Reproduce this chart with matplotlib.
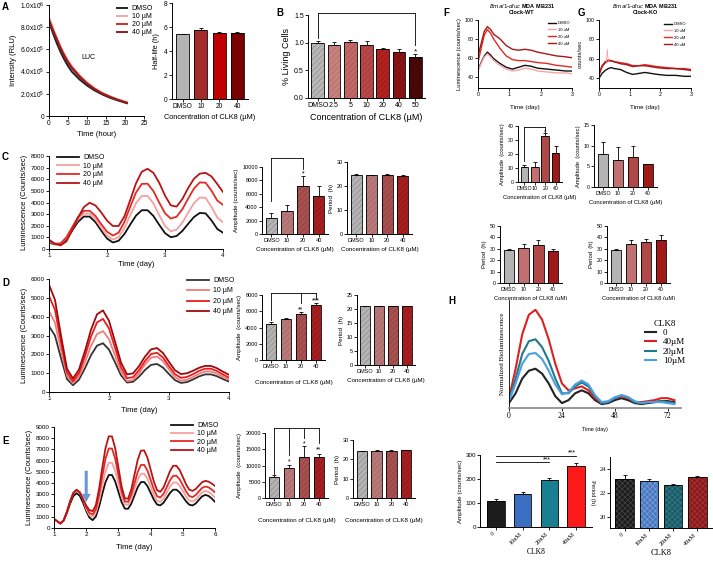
import numpy as np
import matplotlib
matplotlib.use('Agg')
import matplotlib.pyplot as plt

plt.rcParams['font.family'] = ['Liberation Sans', 'DejaVu Sans']
plt.rcParams['hatch.linewidth'] = 0.35
plt.rcParams['axes.linewidth'] = 0.7

# ---------------- data ----------------
conc = ['DMSO', '10', '20', '40']
leg_labels = ['DMSO', '10 µM', '20 µM', '40 µM']

# A: luciferase decay
A_t = [0, 1, 2, 3, 4, 5, 6, 8, 10, 12, 14, 16, 18, 20.5]
A_dmso = [8.5, 7.5, 6.6, 5.8, 5.1, 4.5, 4.0, 3.3, 2.75, 2.3, 1.95, 1.65, 1.42, 1.15]
A_10 = [8.9, 8.0, 7.1, 6.3, 5.6, 5.0, 4.5, 3.7, 3.05, 2.5, 2.1, 1.78, 1.52, 1.25]
A_20 = [8.7, 7.8, 7.0, 6.2, 5.5, 4.9, 4.4, 3.6, 2.95, 2.45, 2.05, 1.75, 1.48, 1.2]
A_40 = [8.6, 7.7, 6.9, 6.1, 5.4, 4.8, 4.3, 3.55, 2.9, 2.4, 2.0, 1.7, 1.45, 1.18]
A_half = [5.4, 5.75, 5.5, 5.52]
A_half_err = [0.03, 0.2, 0.06, 0.06]

# B: viability
B_conc = ['DMSO', '2.5', '5', '10', '20', '40', '50']
B_val = [1.0, 0.96, 1.02, 0.95, 0.88, 0.83, 0.75]
B_err = [0.03, 0.05, 0.02, 0.08, 0.03, 0.05, 0.04]

# C
C_t = [1.0, 1.1, 1.2, 1.3, 1.4, 1.5, 1.6, 1.7, 1.8, 1.9, 2.0, 2.1, 2.2, 2.3, 2.4, 2.5,
       2.6, 2.7, 2.8, 2.9, 3.0, 3.1, 3.2, 3.3, 3.4, 3.5, 3.6, 3.7, 3.8, 3.9, 4.0]
C_dmso = [550, 400, 411, 865, 1600, 2335, 2790, 2787, 2319, 1585, 901, 561, 708, 1286, 2100, 2872,
          3337, 3334, 2846, 2080, 1367, 1012, 1119, 1555, 2170, 2752, 3103, 3063, 2471, 1729, 1400]
C_10 = [650, 430, 466, 956, 1750, 2544, 3035, 3037, 2569, 1835, 1152, 812, 1013, 1793, 2894, 3938,
        4565, 4563, 3922, 2918, 1982, 1516, 1666, 2274, 3132, 3945, 4434, 4391, 3646, 2714, 2300]
C_20 = [750, 460, 472, 1008, 1875, 2742, 3279, 3290, 2842, 2140, 1487, 1161, 1402, 2324, 3625, 4858,
        5600, 5615, 4984, 3995, 3074, 2616, 2777, 3426, 4341, 5208, 5730, 5701, 5024, 4176, 3800]
C_40 = [800, 450, 310, 650, 1600, 2700, 3600, 3980, 3750, 3150, 2450, 1980, 1980, 2800, 4200, 5650,
        6650, 6900, 6550, 5700, 4600, 3750, 3650, 4300, 5250, 6050, 6480, 6550, 6250, 5600, 4900]
C_amp = [2400, 3400, 7200, 5700]
C_amp_err = [800, 1000, 1500, 1400]
C_per = [24.5, 24.4, 24.5, 24.3]
C_per_err = [0.3, 0.3, 0.3, 0.4]

# D
D_t = C_t
D_dmso = [3500, 2990, 1796, 684, 359, 656, 1264, 1954, 2461, 2589, 2250, 1576, 887, 503, 542, 811,
          1169, 1438, 1489, 1295, 953, 629, 481, 527, 665, 827, 935, 936, 838, 686, 553]
D_10 = [4300, 3676, 2217, 858, 462, 831, 1587, 2446, 3076, 3236, 2804, 1946, 1068, 580, 632, 989,
        1461, 1818, 1886, 1639, 1203, 790, 601, 650, 797, 970, 1084, 1085, 975, 806, 658]
D_20 = [5100, 4363, 2638, 1032, 565, 1006, 1910, 2939, 3692, 3884, 3372, 2354, 1314, 735, 785, 1155,
        1645, 2015, 2085, 1829, 1376, 947, 751, 800, 947, 1120, 1234, 1233, 1112, 927, 764]
D_40 = [5700, 4890, 2995, 1230, 715, 1196, 2182, 3302, 4124, 4333, 3781, 2684, 1562, 938, 988, 1371,
        1879, 2262, 2335, 2069, 1600, 1154, 951, 995, 1127, 1283, 1386, 1383, 1262, 1077, 914]
D_amp = [4400, 5000, 5700, 6800]
D_amp_err = [300, 200, 150, 200]
D_per = [21.0, 21.0, 21.0, 21.0]
D_per_err = [0.1, 0.1, 0.1, 0.1]

# E
E_t = [1.0, 1.1, 1.2, 1.3, 1.4, 1.5, 1.6, 1.7, 1.8, 1.9, 2.0, 2.1, 2.2, 2.3, 2.4, 2.5, 2.6,
       2.7, 2.8, 2.9, 3.0, 3.1, 3.2, 3.3, 3.4, 3.5, 3.6, 3.7, 3.8, 3.9, 4.0, 4.1, 4.2, 4.3,
       4.4, 4.5, 4.6, 4.7, 4.8, 4.9, 5.0, 5.1, 5.2, 5.3, 5.4, 5.5, 5.6, 5.7, 5.8, 5.9, 6.0]
E_dmso = [800, 600, 400, 657, 1332, 2169, 2844, 3100, 2872, 2272, 1528, 928, 700, 1024, 1901, 3041, 4091,
          4718, 4724, 4151, 3225, 2299, 1726, 1710, 2165, 2900, 3635, 4090, 4101, 3741, 3139, 2537, 2097, 2014,
          2245, 2677, 3115, 3412, 3418, 3183, 2789, 2381, 2078, 2006, 2179, 2510, 2820, 2950, 2860, 2622, 2328]
E_10 = [800, 600, 400, 685, 1435, 2365, 3115, 3400, 3172, 2572, 1700, 1150, 1000, 1387, 2436, 3798, 5052,
        5802, 5806, 5097, 3950, 2803, 2094, 2070, 2597, 3450, 4303, 4830, 4840, 4406, 3678, 2950, 2417, 2317,
        2604, 3141, 3684, 4053, 4062, 3778, 3302, 2810, 2444, 2356, 2529, 2860, 3170, 3300, 3214, 2990, 2711]
E_20 = [800, 600, 400, 685, 1435, 2365, 3115, 3400, 3172, 2572, 1850, 1350, 1200, 1674, 2958, 4626, 6162,
        7080, 7081, 6180, 4725, 3270, 2369, 2333, 2961, 3975, 4989, 5617, 5631, 5130, 4290, 3450, 2835, 2719,
        3038, 3634, 4238, 4648, 4657, 4341, 3811, 3263, 2855, 2756, 2929, 3260, 3570, 3700, 3624, 3424, 3176]
E_40 = [800, 600, 400, 685, 1435, 2365, 3115, 3400, 3172, 2572, 2000, 1600, 1500, 2037, 3492, 5383, 7124,
        8164, 8161, 7105, 5400, 3695, 2639, 2608, 3427, 4750, 6073, 6892, 6913, 6278, 5214, 4150, 3371, 3223,
        3606, 4321, 5046, 5538, 5549, 5177, 4551, 3905, 3424, 3305, 3469, 3783, 4077, 4200, 4134, 3958, 3741]
E_amp = [6600, 9150, 12700, 12700]
E_amp_err = [400, 900, 3200, 800]
E_per = [24.2, 24.4, 24.4, 24.6]
E_per_err = [0.2, 0.2, 0.2, 0.3]

# F / G (Bmal1-dluc MDA MB231)
FG_t = [0, 0.1, 0.2, 0.3, 0.4, 0.5, 0.7, 0.9, 1.1, 1.3, 1.5, 1.7, 1.9, 2.2, 2.5, 2.8, 3.0]
F_dmso = [47, 55, 62, 66, 63, 59, 54, 50, 48, 50, 52, 51, 49, 48, 47, 46, 46]
F_10 = [46, 54, 61, 64, 61, 57, 52, 48, 46, 47, 49, 48, 46, 45, 44, 44, 43]
F_20 = [55, 70, 84, 90, 86, 80, 70, 62, 58, 57, 57, 56, 55, 54, 52, 51, 50]
F_40 = [62, 75, 88, 93, 90, 85, 80, 73, 69, 68, 69, 68, 66, 64, 62, 61, 60]
G_dmso = [40, 45, 48, 50, 51, 50, 49, 46, 44, 45, 46, 45, 44, 43, 43, 42, 42]
G_10 = [43, 52, 56, 58, 58, 57, 56, 55, 53, 53, 53, 52, 51, 51, 50, 49, 49]
G_20 = [44, 53, 57, 59, 58, 57, 56, 55, 53, 53, 54, 53, 52, 51, 50, 50, 49]
G_40 = [44, 52, 56, 58, 58, 57, 55, 54, 52, 53, 53, 52, 51, 50, 50, 49, 48]
G_spike_t = [0.24, 0.27, 0.30]
G_spike_v = [57, 70, 58]
F_amp = [11, 11, 33, 21]
F_amp_err = [1, 3, 2, 5]
F_per = [29, 31, 33, 28]
F_per_err = [1, 3, 5, 2]
G_amp = [8.0, 6.6, 7.2, 5.5]
G_amp_err = [2.8, 3.0, 2.7, 0.1]
G_per = [29, 34, 36, 38]
G_per_err = [1, 4, 3, 4]

# H
H_t = [0, 3, 6, 9, 12, 15, 18, 21, 24, 27, 30, 33, 36, 39, 42, 45, 48, 51, 54, 57, 60, 63, 66, 69, 72, 75]
H_0 = [0.05, 0.15, 0.3, 0.38, 0.4, 0.35, 0.25, 0.12, 0.05, 0.08, 0.15, 0.18, 0.15, 0.08, 0.04, 0.05,
       0.08, 0.1, 0.08, 0.05, 0.04, 0.05, 0.06, 0.07, 0.07, 0.06]
H_40 = [0.1, 0.4, 0.75, 0.95, 1.0, 0.9, 0.7, 0.45, 0.25, 0.18, 0.2, 0.22, 0.18, 0.1, 0.05, 0.06,
        0.1, 0.12, 0.1, 0.06, 0.06, 0.07, 0.08, 0.1, 0.1, 0.08]
H_20 = [0.08, 0.3, 0.55, 0.68, 0.7, 0.62, 0.48, 0.3, 0.15, 0.15, 0.22, 0.26, 0.22, 0.12, 0.05, 0.06,
        0.1, 0.13, 0.11, 0.06, 0.05, 0.06, 0.06, 0.07, 0.06, 0.05]
H_10 = [0.07, 0.25, 0.45, 0.55, 0.56, 0.5, 0.38, 0.24, 0.14, 0.16, 0.24, 0.28, 0.24, 0.13, 0.06, 0.07,
        0.11, 0.13, 0.11, 0.07, 0.05, 0.06, 0.06, 0.06, 0.05, 0.04]
H_conc = ['0', '10nM', '20nM', '40nM']
H_amp = [110, 138, 195, 255]
H_amp_err = [5, 8, 8, 10]
H_per = [23.2, 23.0, 22.65, 23.3]
H_per_err = [0.3, 0.2, 0.08, 0.15]

# ---------------- helpers ----------------
W, HH = 713, 565
fig = plt.figure(figsize=(W / 100, HH / 100), dpi=100)


def axp(x0, y0, x1, y1):
    return fig.add_axes([x0 / W, 1 - y1 / HH, (x1 - x0) / W, (y1 - y0) / HH])


def style(ax, fs=4.5):
    for s in ['top', 'right']:
        ax.spines[s].set_visible(False)
    for s in ['left', 'bottom']:
        ax.spines[s].set_linewidth(0.7)
    ax.tick_params(labelsize=fs, length=2, width=0.6, pad=1)


def hbars(ax, vals, errs, fcs, hcs, hatch='//////', w=0.72, labels=None):
    x = np.arange(len(vals))
    ax.bar(x, vals, w, color=fcs, edgecolor=hcs, hatch=hatch, linewidth=0)
    ax.bar(x, vals, w, facecolor='none', edgecolor='black', linewidth=0.6)
    ax.errorbar(x, vals, yerr=[np.zeros(len(vals)), errs], fmt='none', ecolor='black',
                elinewidth=0.6, capsize=1.5, capthick=0.6)
    ax.set_xlim(-0.6, len(vals) - 0.4)
    ax.set_xticks(x)
    if labels is not None:
        ax.set_xticklabels(labels)


def bracket(ax, xs, legs_bottom, ytop, lw=0.6):
    ax.plot([xs[0], xs[-1]], [ytop, ytop], color='black', lw=lw, clip_on=False)
    for x, yb in zip(xs, legs_bottom):
        ax.plot([x, x], [yb, ytop], color='black', lw=lw, clip_on=False)


def label(x, y, s, fs=7):
    fig.text(x / W, 1 - y / HH, s, fontsize=fs, fontweight='bold', ha='left', va='top')


def legend_at(ax, handles, labels, x, y, fs=4.5, hl=2.2, sp=0.2):
    ax.legend(handles, labels, loc='upper left', bbox_to_anchor=(x / W, 1 - y / HH),
              bbox_transform=fig.transFigure, frameon=False, fontsize=fs, handlelength=hl,
              labelspacing=sp, borderaxespad=0, borderpad=0, handletextpad=0.6)


gray_fc, gray_hc = '#b4b4b4', '#7c7c7c'

# ---------------- A ----------------
label(2, 2, 'A')
ax = axp(49, 5, 144, 116)
style(ax, 4.8)
colsA = ['#222222', '#f4a6a6', '#d42a2a', '#8e1c1c']
hs = []
for ys, c in zip([A_dmso, A_10, A_20, A_40], colsA):
    h, = ax.plot(A_t, np.array(ys) * 1e5, color=c, lw=1.4)
    hs.append(h)
ax.set_xlim(0, 25)
ax.set_ylim(0, 1e6)
ax.set_xticks([0, 5, 10, 15, 20, 25])
ax.set_yticks([0, 2e5, 4e5, 6e5, 8e5, 1e6])
ax.set_yticklabels(['0', '2.0x10$^5$', '4.0x10$^5$', '6.0x10$^5$', '8.0x10$^5$', '1.0x10$^6$'])
ax.set_xlabel('Time (hour)', fontsize=5.5, labelpad=3)
ax.set_ylabel('Intensity (RLU)', fontsize=5.5, labelpad=2)
ax.text(10.3, 5.1e5, 'LUC', fontsize=5, ha='center')
legend_at(ax, hs, leg_labels, 117, 5, fs=5, hl=1.5, sp=0.15)

ax = axp(172, 3, 248, 99)
style(ax, 4.8)
hbars(ax, A_half, A_half_err, [gray_fc, '#a52a2a', '#c00000', '#7a0000'],
      [gray_hc, '#8a1f1f', '#a00000', '#600000'], hatch='', labels=conc)
ax.set_ylim(0, 8)
ax.set_yticks([0, 2, 4, 6, 8])
ax.set_ylabel('Half-life (h)', fontsize=5.3, labelpad=3)
ax.set_xlabel('Concentration of CLK8 (µM)', fontsize=5.3, labelpad=3)

# ---------------- B ----------------
label(276, 8, 'B')
ax = axp(308, 15, 425, 98)
style(ax, 5.0)
hbars(ax, B_val, B_err, ['#b8b8b8', '#c88080', '#c26868', '#b84848', '#b22222', '#8a1414', '#4a0808'],
      ['#7c7c7c', '#a86060', '#a24848', '#983030', '#921010', '#6a0a0a', '#300000'], hatch='//////',
      w=0.78, labels=B_conc)
ax.set_ylim(0, 1.5)
ax.set_yticks([0, 0.5, 1.0, 1.5])
ax.set_yticklabels(['0.0', '0.5', '1.0', '1.5'])
ax.set_ylabel('% Living Cells', fontsize=6.5, labelpad=2)
ax.set_xlabel('Concentration of CLK8 (µM)', fontsize=6.5, labelpad=3)
bracket(ax, [0, 6], [1.08, 0.95], 1.54)
ax.text(6, 0.8, '*', fontsize=6, ha='center')

# ---------------- C ----------------
line_cols = ['#111111', '#f4a0a0', '#e42a24', '#b81414']
label(2, 152, 'C')
ax = axp(49, 156, 223, 249)
style(ax, 4.5)
hs = []
for ys, c in zip([C_dmso, C_10, C_20, C_40], line_cols):
    h, = ax.plot(C_t, ys, color=c, lw=1.3)
    hs.append(h)
ax.set_xlim(1, 4)
ax.set_ylim(0, 8000)
ax.set_xticks([1, 2, 3, 4])
ax.set_yticks(range(0, 8001, 1000))
ax.set_xlabel('Time (day)', fontsize=5.5, labelpad=2)
ax.set_ylabel('Luminescence (Counts/sec)', fontsize=5.5, labelpad=2)
legend_at(ax, hs, leg_labels, 57, 154, fs=5, hl=3.2, sp=0.25)

amp_fc = [gray_fc, '#b87878', '#a85050', '#a42020']
amp_hc = [gray_hc, '#9a6060', '#8a3a3a', '#881010']
ax = axp(262, 167, 328, 234)
style(ax, 4)
hbars(ax, C_amp, C_amp_err, amp_fc, amp_hc, labels=conc)
ax.set_ylim(0, 10000)
ax.set_yticks(range(0, 10001, 2000))
ax.set_ylabel('Amplitude (counts/sec)', fontsize=4.5, labelpad=2)
ax.set_xlabel('Concentration of CLK8 (µM)', fontsize=4.5, labelpad=3)
bracket(ax, [0, 2], [5000, 9700], 11300)
ax.text(2, 8800, '*', fontsize=5, ha='center')

ax = axp(347, 162, 412, 234)
style(ax, 4)
hbars(ax, C_per, C_per_err, amp_fc, amp_hc, labels=conc)
ax.set_ylim(0, 30)
ax.set_yticks([0, 10, 20, 30])
ax.set_ylabel('Period  (h)', fontsize=4.5, labelpad=2)
ax.set_xlabel('Concentration of CLK8 (µM)', fontsize=4.5, labelpad=3)

# ---------------- D ----------------
line_cols_D = ['#333333', '#f07c7c', '#ec1c1c', '#a00a0a']
label(2, 278, 'D')
ax = axp(49, 279, 229, 392)
style(ax, 4.5)
hs = []
for ys, c in zip([D_dmso, D_10, D_20, D_40], line_cols_D):
    h, = ax.plot(D_t, ys, color=c, lw=1.3)
    hs.append(h)
ax.set_xlim(1, 4)
ax.set_ylim(0, 6000)
ax.set_xticks([1, 2, 3, 4])
ax.set_yticks(range(0, 6001, 1000))
ax.set_xlabel('Time (day)', fontsize=5.5, labelpad=4)
ax.set_ylabel('Luminescence (Counts/sec)', fontsize=5.5, labelpad=2)
legend_at(ax, hs, leg_labels, 187, 277, fs=5, hl=3.2, sp=0.5)

ax = axp(262, 295, 325, 360)
style(ax, 4)
hbars(ax, D_amp, D_amp_err, amp_fc, amp_hc, labels=conc)
ax.set_ylim(0, 8000)
ax.set_yticks(range(0, 8001, 2000))
ax.set_ylabel('Amplitude  (counts/sec)', fontsize=4.5, labelpad=2)
ax.set_xlabel('Concentration of CLK8 (µM)', fontsize=4.5, labelpad=8)
bracket(ax, [0, 2, 3], [4900, 7000, 7500], 8300)
ax.text(2, 5950, '**', fontsize=5, ha='center')
ax.text(3, 7050, '***', fontsize=5, ha='center')

ax = axp(357, 295, 415, 365)
style(ax, 4)
hbars(ax, D_per, D_per_err, amp_fc, amp_hc, labels=conc)
ax.set_ylim(0, 25)
ax.set_yticks([0, 5, 10, 15, 20, 25])
ax.set_ylabel('Period  (h)', fontsize=4.5, labelpad=2)
ax.set_xlabel('Concentration of CLK8 (µM)', fontsize=4.5, labelpad=3)

# ---------------- E ----------------
label(2, 436, 'E')
ax = axp(54, 427, 215, 528)
style(ax, 4.5)
hs = []
for ys, c in zip([E_dmso, E_10, E_20, E_40], line_cols):
    h, = ax.plot(E_t, ys, color=c, lw=1.3)
    hs.append(h)
ax.annotate('', xy=(2.0, 2300), xytext=(2.0, 5100),
            arrowprops=dict(color='#6a98d0', width=2.2, headwidth=6.5, headlength=6, lw=0))
ax.set_xlim(1, 6)
ax.set_ylim(0, 9000)
ax.set_xticks([1, 2, 3, 4, 5, 6])
ax.set_yticks(range(0, 9001, 1000))
ax.set_xlabel('Time (day)', fontsize=5.5, labelpad=5)
ax.set_ylabel('Luminescence (Counts/sec)', fontsize=5.5, labelpad=2)
legend_at(ax, hs, leg_labels, 171, 422, fs=5, hl=3.2, sp=0.2)

ax = axp(265, 433, 328, 498)
style(ax, 4)
hbars(ax, E_amp, E_amp_err, amp_fc, amp_hc, labels=conc)
ax.set_ylim(0, 20000)
ax.set_yticks(range(0, 20001, 5000))
ax.set_ylabel('Amplitude  (counts/sec)', fontsize=4.5, labelpad=2)
ax.set_xlabel('Concentration of CLK8 (µM)', fontsize=4.5, labelpad=8)
bracket(ax, [0, 1, 2, 3], [7500, 13200, 18500, 16800], 21500)
ax.text(1, 10800, '*', fontsize=5, ha='center')
ax.text(2, 16300, '*', fontsize=5, ha='center')
ax.text(3, 14300, '**', fontsize=5, ha='center')

ax = axp(353, 440, 415, 498)
style(ax, 4)
hbars(ax, E_per, E_per_err, amp_fc, amp_hc, labels=conc)
ax.set_ylim(0, 30)
ax.set_yticks([0, 10, 20, 30])
ax.set_ylabel('Period  (h)', fontsize=4.5, labelpad=2)
ax.set_xlabel('Concentration of CLK8 (µM)', fontsize=4.5, labelpad=8)

# ---------------- F / G ----------------
fg_cols = ['#111111', '#f4a6a6', '#e82828', '#a81818']
fg_leg = ['DMSO', '10 uM', '20 uM', '40 uM']
label(443, 8, 'F')
fig.text(522 / W, 1 - 2 / HH, '$\\bf{\\it{Bmal1}}$-$\\bf{\\it{dluc}}$ MDA MB231\nClock-WT',
         fontsize=4, fontweight='bold', ha='center', va='top', linespacing=1.1)
ax = axp(478, 20, 572, 88)
style(ax, 3.8)
hs = []
for ys, c in zip([F_dmso, F_10, F_20, F_40], fg_cols):
    h, = ax.plot(FG_t, ys, color=c, lw=1.0)
    hs.append(h)
ax.set_xlim(0, 3)
ax.set_ylim(28, 100)
ax.set_xticks([0, 1, 2, 3])
ax.set_yticks([40, 60, 80, 100])
ax.set_xlabel('Time (day)', fontsize=4.5, labelpad=6)
ax.set_ylabel('Luminescence (counts/sec)', fontsize=4.2, labelpad=2)
legend_at(ax, hs, fg_leg, 548, 21, fs=3, hl=1.8, sp=0.7)

label(578, 8, 'G')
fig.text(645 / W, 1 - 2 / HH, '$\\bf{\\it{Bmal1}}$-$\\bf{\\it{dluc}}$ MDA MB231\nClock-KO',
         fontsize=4, fontweight='bold', ha='center', va='top', linespacing=1.1)
ax = axp(599, 20, 691, 88)
style(ax, 3.8)
hs = []
for ys, c in zip([G_dmso, G_10, G_20, G_40], fg_cols):
    h, = ax.plot(FG_t, ys, color=c, lw=1.0)
    hs.append(h)
ax.plot(G_spike_t, G_spike_v, color=fg_cols[1], lw=0.6)
ax.set_xlim(0, 3)
ax.set_ylim(30, 100)
ax.set_xticks([0, 1, 2, 3])
ax.set_yticks([40, 60, 80, 100])
ax.set_xlabel('Time (day)', fontsize=4.5, labelpad=6)
ax.set_ylabel('counts/sec', fontsize=4.2, labelpad=2)
legend_at(ax, hs, fg_leg, 664, 22, fs=3, hl=1.8, sp=0.7)

fg_fc = [gray_fc, '#c07070', '#b04848', '#a01818']
fg_hc = [gray_hc, '#a05858', '#903434', '#800a0a']
ax = axp(518, 126, 562, 182)
style(ax, 3.8)
hbars(ax, F_amp, F_amp_err, fg_fc, fg_hc, hatch='', labels=conc)
ax.set_ylim(0, 40)
ax.set_yticks([0, 10, 20, 30, 40])
ax.set_ylabel('Amplitude  (counts/sec)', fontsize=4.2, labelpad=2)
ax.set_xlabel('Concentration of CLK8 (µM)', fontsize=4.2, labelpad=3)
bracket(ax, [0, 2], [15, 36], 39)
ax.text(2, 35, '*', fontsize=4.5, ha='center')

ax = axp(594, 125, 657, 187)
style(ax, 3.8)
hbars(ax, G_amp, G_amp_err, fg_fc, fg_hc, hatch='', labels=conc)
ax.set_ylim(0, 15)
ax.set_yticks([0, 5, 10, 15])
ax.set_ylabel('Amplitude  (counts/sec)', fontsize=4.2, labelpad=2)
ax.set_xlabel('Concentration of CLK8 (µM)', fontsize=4.2, labelpad=3)

ax = axp(500, 226, 562, 283)
style(ax, 3.8)
hbars(ax, F_per, F_per_err, fg_fc, fg_hc, hatch='', labels=conc)
ax.set_ylim(0, 50)
ax.set_yticks([0, 10, 20, 30, 40, 50])
ax.set_ylabel('Period  (h)', fontsize=4.2, labelpad=2)
ax.set_xlabel('Concentration of CLK8 (µM)', fontsize=4.2, labelpad=3)

ax = axp(607, 226, 670, 283)
style(ax, 3.8)
hbars(ax, G_per, G_per_err, fg_fc, fg_hc, hatch='', labels=conc)
ax.set_ylim(0, 50)
ax.set_yticks([0, 10, 20, 30, 40, 50])
ax.set_ylabel('Period  (h)', fontsize=4.2, labelpad=2)
ax.set_xlabel('Concentration of CLK8 (µM)', fontsize=4.2, labelpad=3)

# ---------------- H ----------------
serif = ['Liberation Serif', 'DejaVu Serif']
label(448, 296, 'H')
ax = axp(509, 300, 681, 408)
for s in ['top', 'right']:
    ax.spines[s].set_visible(False)
ax.spines['bottom'].set_color('#888888')
ax.spines['bottom'].set_linewidth(1.2)
ax.spines['left'].set_linewidth(0.6)
h_cols = ['#222222', '#e02020', '#1f7a8c', '#4aa0e0']
hs = []
for ys, c in zip([H_0, H_40, H_20, H_10], h_cols):
    h, = ax.plot(H_t, ys, color=c, lw=1.5)
    hs.append(h)
ax.set_xlim(0, 78)
ax.set_ylim(0, 1.1)
ax.set_yticks([])
ax.set_xticks([0, 24, 48, 72])
ax.tick_params(axis='x', labelsize=5.5, length=2, width=0.6, pad=1)
for t in ax.get_xticklabels():
    t.set_fontfamily(serif)
ax.set_xlabel('Time (day)', fontsize=4, labelpad=5)
ax.set_ylabel('Normalized Bioluminescence', fontsize=5, labelpad=3, fontfamily=serif)
lg = ax.legend(hs, ['0', '40µM', '20µM', '10µM'], title='CLK8', loc='upper left',
               bbox_to_anchor=(645 / W, 1 - 320 / HH), bbox_transform=fig.transFigure,
               frameon=False, handlelength=1.2, labelspacing=0.1, borderpad=0, borderaxespad=0,
               prop={'family': serif, 'size': 6.5})
lg.get_title().set_fontfamily(serif)
lg.get_title().set_fontsize(6.5)

h_fc = ['#1c1c1c', '#3a6ec0', '#1a7f90', '#ff1a1a']
ax = axp(480, 455, 592, 527)
style(ax, 4.5)
hbars(ax, H_amp, H_amp_err, h_fc, h_fc, hatch='', w=0.65, labels=H_conc)
ax.set_ylim(0, 300)
ax.set_yticks([0, 100, 200, 300])
for t in ax.get_xticklabels():
    t.set_rotation(45)
    t.set_ha('right')
    t.set_fontfamily(serif)
ax.set_ylabel('Amplitude (counts/sec)', fontsize=4.5, labelpad=2)
ax.set_xlabel('CLK8', fontsize=5.5, labelpad=2, fontfamily=serif)
bracket(ax, [0, 2], [270, 270], 270)
ax.text(1.9, 274, '***', fontsize=5, ha='center')
bracket(ax, [0, 3], [297, 297], 297)
ax.text(2.85, 301, '***', fontsize=5, ha='center')

hp_fc = ['#1c1c1c', '#4a78c0', '#1a5a66', '#8b1a1a']
hp_hc = ['#555555', '#8ab0e0', '#3a8a96', '#b04040']
ax = axp(610, 457, 712, 528)
style(ax, 4.5)
hbars(ax, H_per, H_per_err, hp_fc, hp_hc, hatch='xxxxxx', w=0.75, labels=H_conc)
ax.set_ylim(19.1, 25)
ax.set_yticks([20, 22, 24])
for t in ax.get_xticklabels() + ax.get_yticklabels():
    t.set_fontfamily(serif)
for t in ax.get_xticklabels():
    t.set_rotation(45)
    t.set_ha('right')
ax.set_ylabel('Period (h)', fontsize=4.5, fontfamily=serif, rotation=270, va='center')
ax.yaxis.set_label_coords(-0.17, 0.5)
ax.set_xlabel('CLK8', fontsize=6, labelpad=2, fontfamily=serif)

fig.savefig('out.png', dpi=100)
